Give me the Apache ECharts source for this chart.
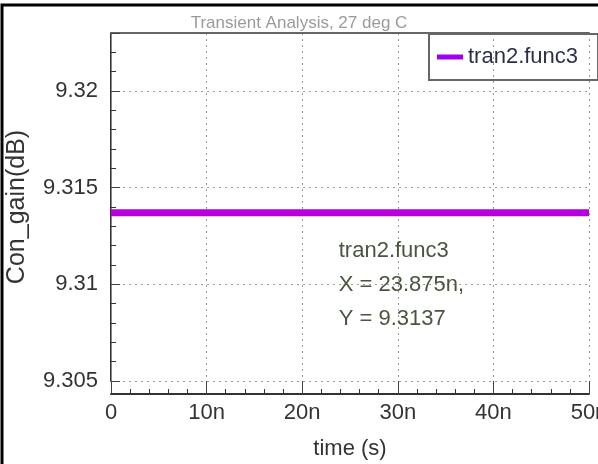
<!DOCTYPE html>
<html>
<head>
<meta charset="utf-8">
<script src="https://cdn.jsdelivr.net/npm/echarts@6/dist/echarts.min.js"></script>
<style>
  html, body { margin: 0; padding: 0; background: #fff; }
  #chart { width: 598px; height: 464px; }
</style>
</head>
<body>
<div id="chart"></div>
<script>
// data
var chartTitle = 'Transient Analysis, 27 deg C';
var seriesName = 'tran2.func3';
var timeNs = [0, 10, 20, 30, 40, 50];
var gainDb = [9.3137, 9.3137, 9.3137, 9.3137, 9.3137, 9.3137];
var cursorX = 23.875;
var cursorY = 9.3137;

var fontName = 'Liberation Sans, Arial, sans-serif';

function buildSeriesData() {
    var out = [];
    for (var i = 0; i < timeNs.length; i++) {
        out.push([timeNs[i], gainDb[i]]);
    }
    return out;
}

var option = {
    animation: false,
    backgroundColor: '#fff',
    textStyle: { fontFamily: fontName },
    title: {
        text: chartTitle,
        left: 'center',
        top: 10,
        textStyle: { fontSize: 17, fontWeight: 'normal', color: '#9a9a9a', fontFamily: fontName }
    },
    legend: {
        left: 429,
        top: 34,
        padding: [12, 20, 12, 8],
        borderColor: '#666',
        borderWidth: 2,
        icon: 'rect',
        itemWidth: 26,
        itemHeight: 5,
        textStyle: { fontSize: 22, color: '#2b2f4a', fontFamily: fontName },
        data: [seriesName]
    },
    grid: { left: 111, right: 9, top: 33, bottom: 83, outerBoundsMode: 'none', containLabel: false },
    xAxis: [{
        type: 'value',
        min: 0,
        max: 50,
        interval: 10,
        offset: 13,
        name: 'time (s)',
        nameLocation: 'middle',
        nameGap: 44,
        nameTextStyle: { fontSize: 22, color: '#333', fontFamily: fontName },
        axisLine: { show: true, lineStyle: { color: '#333', width: 2 } },
        axisTick: { show: true, inside: true, length: 13, lineStyle: { color: '#444' } },
        minorTick: { show: true, splitNumber: 5, length: 5, lineStyle: { color: '#333', width: 1 } },
        axisLabel: {
            margin: 8,
            fontSize: 22,
            color: '#333',
            formatter: function (v) { return v === 0 ? '0' : v + 'n'; }
        },
        splitLine: { show: true, lineStyle: { color: '#999', type: [2, 4], width: 1 } }
    }, {
        type: 'value',
        position: 'top',
        min: 0,
        max: 50,
        axisLine: { show: true, onZero: false, lineStyle: { color: '#666', width: 2 } },
        axisTick: { show: false },
        axisLabel: { show: false },
        splitLine: { show: false }
    }],
    yAxis: [{
        type: 'value',
        min: 9.305,
        max: 9.323,
        interval: 0.005,
        offset: 9,
        name: 'Con_gain(dB)',
        nameLocation: 'middle',
        nameGap: 72,
        nameTextStyle: { fontSize: 25, color: '#333', fontFamily: fontName },
        axisLine: { show: true, lineStyle: { color: '#333', width: 2 } },
        axisTick: { show: true, inside: true, length: 9, lineStyle: { color: '#444' } },
        minorTick: { show: true, splitNumber: 5, length: 5, lineStyle: { color: '#333', width: 1 } },
        axisLabel: {
            margin: 4,
            fontSize: 22,
            color: '#333',
            showMaxLabel: false,
            formatter: function (v) { return String(+v.toFixed(3)); }
        },
        splitLine: { show: true, lineStyle: { color: '#999', type: [2, 4], width: 1 } }
    }, {
        type: 'value',
        position: 'left',
        min: 9.305,
        max: 9.323,
        axisLine: { show: true, onZero: false, lineStyle: { color: '#888', width: 1 } },
        axisTick: { show: false },
        axisLabel: { show: false },
        splitLine: { show: false }
    }],
    graphic: [{
        type: 'rect',
        shape: { x: 2, y: 5, width: 700, height: 600 },
        style: { fill: 'none', stroke: '#000', lineWidth: 3 },
        silent: true
    }],
    series: [{
        name: seriesName,
        type: 'line',
        data: buildSeriesData(),
        symbol: 'none',
        lineStyle: { color: '#b400dc', width: 7 },
        itemStyle: { color: '#a000f0' },
        markPoint: {
            symbol: 'circle',
            symbolSize: 1,
            itemStyle: { color: 'rgba(0,0,0,0)' },
            label: {
                show: true,
                position: [0, 22],
                align: 'left',
                fontSize: 22,
                lineHeight: 34,
                color: '#4a5540',
                fontFamily: fontName,
                formatter: function () {
                    return seriesName + '\nX = ' + cursorX + 'n,\nY = ' + cursorY;
                }
            },
            data: [{ coord: [cursorX, cursorY] }]
        }
    }]
};

var chart = echarts.init(document.getElementById('chart'));
chart.setOption(option);
</script>
</body>
</html>
